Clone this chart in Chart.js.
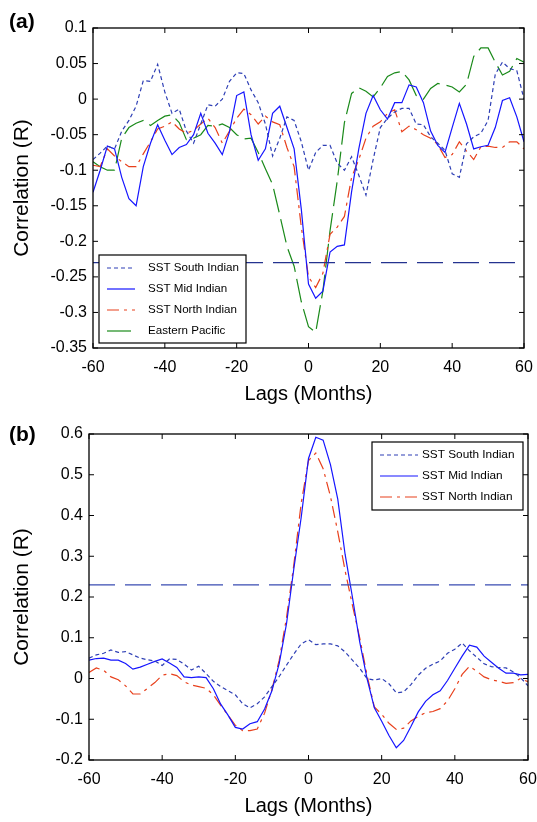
<!DOCTYPE html>
<html>
<head>
<meta charset="utf-8">
<script src="https://cdn.jsdelivr.net/npm/chart.js@4.4.1/dist/chart.umd.min.js"></script>
<style>
  body { margin: 0; background: #fff; width: 537px; height: 822px; position: relative; overflow: hidden; font-family: "Liberation Sans", Arial, sans-serif; }
  .panel { position: absolute; left: 0; width: 537px; }
  #wrapA { top: 0; height: 410px; }
  #wrapB { top: 410px; height: 412px; }
  .tag { position: absolute; font-weight: bold; font-size: 21px; color: #000; }
</style>
</head>
<body>
<div class="panel" id="wrapA"><canvas id="chartA" width="537" height="410"></canvas></div>
<div class="panel" id="wrapB"><canvas id="chartB" width="537" height="412"></canvas></div>
<div class="tag" style="left:9px; top:9px">(a)</div>
<div class="tag" style="left:9px; top:422px">(b)</div>
<script>
// lags in months, one value every 2 months
const lags = Array.from({length: 61}, (_, i) => -60 + 2 * i)
const xTicks = [-60, -40, -20, 0, 20, 40, 60]
const yTicksA = [-0.35, -0.3, -0.25, -0.2, -0.15, -0.1, -0.05, 0, 0.05, 0.1]
const yTicksB = [-0.2, -0.1, 0, 0.1, 0.2, 0.3, 0.4, 0.5, 0.6]
const threshLags = [-60, 60]
const threshA = [-0.23, -0.23]
const threshB = [0.23, 0.23]

// panel (a)
const southA = [-0.085, -0.076, -0.066, -0.07, -0.045, -0.03, -0.01, 0.026, 0.025, 0.049,
  0.01, -0.02, -0.014, -0.045, -0.062, -0.035, -0.008, -0.01, 0.0, 0.025,
  0.037, 0.036, 0.013, -0.005, -0.035, -0.08, -0.055, -0.025, -0.03, -0.06,
  -0.1, -0.075, -0.065, -0.065, -0.09, -0.1, -0.081, -0.107, -0.135, -0.085,
  -0.04, -0.027, -0.018, -0.013, -0.013, -0.035, -0.036, -0.053, -0.062, -0.072,
  -0.105, -0.11, -0.063, -0.053, -0.048, -0.03, 0.035, 0.052, 0.043, 0.04, 0.0]
const midA = [-0.131, -0.1, -0.066, -0.07, -0.11, -0.14, -0.15, -0.095, -0.062, -0.036,
  -0.058, -0.078, -0.068, -0.064, -0.05, -0.02, -0.048, -0.062, -0.078, -0.046,
  0.005, 0.01, -0.05, -0.086, -0.07, -0.02, -0.01, -0.04, -0.07, -0.155,
  -0.26, -0.28, -0.27, -0.215, -0.207, -0.205, -0.13, -0.07, -0.02, 0.005,
  -0.015, -0.028, -0.005, -0.005, 0.02, 0.017, -0.005, -0.045, -0.065, -0.075,
  -0.04, -0.006, -0.035, -0.07, -0.067, -0.065, -0.04, -0.002, 0.002, -0.025, -0.06]
const northA = [-0.093, -0.095, -0.07, -0.08, -0.088, -0.095, -0.095, -0.077, -0.06, -0.042,
  -0.038, -0.032, -0.042, -0.048, -0.044, -0.035, -0.027, -0.04, -0.062, -0.045,
  -0.027, -0.014, -0.022, -0.035, -0.024, -0.032, -0.036, -0.068, -0.095, -0.18,
  -0.25, -0.265, -0.245, -0.19, -0.18, -0.165, -0.11, -0.085, -0.055, -0.038,
  -0.032, -0.02, -0.015, -0.046, -0.038, -0.043, -0.05, -0.055, -0.064, -0.082,
  -0.078, -0.06, -0.073, -0.085, -0.067, -0.066, -0.068, -0.068, -0.06, -0.06, -0.07]
const eastA = [-0.088, -0.095, -0.1, -0.1, -0.055, -0.04, -0.034, -0.03, -0.037, -0.03,
  -0.024, -0.022, -0.033, -0.057, -0.055, -0.05, -0.037, -0.038, -0.035, -0.04,
  -0.05, -0.056, -0.055, -0.075, -0.098, -0.12, -0.163, -0.207, -0.235, -0.285,
  -0.32, -0.328, -0.27, -0.185, -0.115, -0.033, 0.008, 0.016, 0.011, 0.003,
  0.016, 0.032, 0.037, 0.039, 0.027, 0.005, 0.0, 0.015, 0.022, 0.02,
  0.017, 0.01, 0.021, 0.06, 0.072, 0.072, 0.052, 0.034, 0.039, 0.057, 0.052]

// panel (b)
const southB = [0.05, 0.058, 0.062, 0.07, 0.064, 0.066, 0.058, 0.05, 0.046, 0.043,
  0.032, 0.048, 0.047, 0.035, 0.021, 0.03, 0.012, -0.007, -0.02, -0.03,
  -0.04, -0.062, -0.072, -0.062, -0.045, -0.02, 0.005, 0.033, 0.06, 0.085,
  0.095, 0.083, 0.085, 0.085, 0.08, 0.065, 0.045, 0.025, 0.0, -0.004,
  0.0, -0.013, -0.035, -0.033, -0.015, 0.008, 0.025, 0.035, 0.043, 0.062,
  0.072, 0.087, 0.068, 0.052, 0.036, 0.029, 0.027, 0.026, 0.016, 0.002, -0.018]
const midB = [0.045, 0.049, 0.05, 0.045, 0.045, 0.037, 0.023, 0.028, 0.035, 0.042,
  0.048, 0.038, 0.027, 0.004, 0.002, 0.004, 0.002, -0.025, -0.063, -0.09,
  -0.12, -0.124, -0.111, -0.106, -0.075, -0.03, 0.037, 0.135, 0.27, 0.395,
  0.54, 0.592, 0.585, 0.525, 0.44, 0.305, 0.2, 0.09, 0.0, -0.072,
  -0.105, -0.14, -0.17, -0.152, -0.118, -0.082, -0.056, -0.04, -0.03, -0.005,
  0.025, 0.055, 0.082, 0.077, 0.055, 0.04, 0.025, 0.013, 0.013, 0.009, 0.01]
const northB = [0.015, 0.026, 0.02, 0.004, -0.003, -0.018, -0.038, -0.038, -0.024, -0.01,
  0.008, 0.012, 0.007, -0.008, -0.016, -0.02, -0.024, -0.04, -0.066, -0.09,
  -0.115, -0.128, -0.128, -0.124, -0.085, -0.027, 0.045, 0.15, 0.28, 0.43,
  0.535, 0.553, 0.515, 0.447, 0.36, 0.265, 0.18, 0.1, 0.008, -0.07,
  -0.088, -0.11, -0.125, -0.122, -0.104, -0.093, -0.084, -0.081, -0.074, -0.055,
  -0.025, 0.01, 0.03, 0.018, 0.004, -0.003, -0.007, -0.012, -0.01, 0.0, -0.008]

Chart.defaults.font.family = "'Liberation Sans', Arial, sans-serif"
Chart.defaults.color = '#000'

function pts(xs, ys) {
    return xs.map((x, i) => ({x: x, y: ys[i]}))
}

function series(label, values, color, dash) {
    return {
        label: label,
        data: pts(lags, values),
        borderColor: color,
        borderWidth: 1.2,
        borderDash: dash,
        pointRadius: 0,
        tension: 0,
        fill: false
    }
}

function threshold(values, color) {
    return {
        data: pts(threshLags, values),
        borderColor: color,
        borderWidth: 1.2,
        borderDash: [26, 10],
        pointRadius: 0
    }
}

// box round the axes, with small inward ticks on all four sides
const frame = {
    id: 'frame',
    afterDatasetsDraw(chart) {
        const {ctx, chartArea: a, scales} = chart
        const t = 5
        ctx.save()
        ctx.strokeStyle = '#000'
        ctx.lineWidth = 1.3
        ctx.strokeRect(a.left, a.top, a.right - a.left, a.bottom - a.top)
        ctx.lineWidth = 1
        ctx.beginPath()
        scales.x.ticks.forEach(tk => {
            const px = scales.x.getPixelForValue(tk.value)
            ctx.moveTo(px, a.bottom); ctx.lineTo(px, a.bottom - t)
            ctx.moveTo(px, a.top); ctx.lineTo(px, a.top + t)
        })
        scales.y.ticks.forEach(tk => {
            const py = scales.y.getPixelForValue(tk.value)
            ctx.moveTo(a.left, py); ctx.lineTo(a.left + t, py)
            ctx.moveTo(a.right, py); ctx.lineTo(a.right - t, py)
        })
        ctx.stroke()
        ctx.restore()
    }
}

// boxed legend drawn inside the axes
const boxLegend = {
    id: 'boxLegend',
    afterDraw(chart, args, opts) {
        const {ctx} = chart
        const items = chart.data.datasets.filter(d => d.label)
        ctx.save()
        ctx.fillStyle = '#fff'
        ctx.fillRect(opts.x, opts.y, opts.w, opts.h)
        ctx.strokeStyle = '#000'
        ctx.lineWidth = 1.2
        ctx.strokeRect(opts.x, opts.y, opts.w, opts.h)
        ctx.font = opts.size + "px 'Liberation Sans', Arial, sans-serif"
        ctx.textBaseline = 'middle'
        items.forEach((d, i) => {
            const y = opts.y + opts.first + i * opts.row
            ctx.strokeStyle = d.borderColor
            ctx.lineWidth = d.borderWidth
            ctx.setLineDash(d.borderDash || [])
            ctx.beginPath()
            ctx.moveTo(opts.x + opts.line0, y)
            ctx.lineTo(opts.x + opts.line1, y)
            ctx.stroke()
            ctx.setLineDash([])
            ctx.fillStyle = '#000'
            ctx.fillText(d.label, opts.x + opts.text, y)
        })
        ctx.restore()
    }
}

function makeChart(id, datasets, yMin, yMax, yTicks, yWidth, pad, legend) {
    return new Chart(document.getElementById(id), {
        type: 'line',
        data: {datasets: datasets},
        options: {
            responsive: false,
            animation: false,
            layout: {padding: pad},
            plugins: {
                legend: {display: false},
                tooltip: {enabled: false},
                boxLegend: legend
            },
            scales: {
                x: {
                    type: 'linear',
                    min: -60,
                    max: 60,
                    afterBuildTicks: s => { s.ticks = xTicks.map(v => ({value: v})) },
                    afterFit: s => { s.height = 62; s.paddingLeft = 0; s.paddingRight = 0 },
                    grid: {display: false, drawTicks: false},
                    border: {display: false},
                    ticks: {font: {size: 16}, padding: 10, maxRotation: 0},
                    title: {display: true, text: 'Lags (Months)', font: {size: 20}, padding: {bottom: 4}}
                },
                y: {
                    min: yMin,
                    max: yMax,
                    afterBuildTicks: s => { s.ticks = yTicks.map(v => ({value: v})) },
                    afterFit: s => { s.width = yWidth },
                    grid: {display: false, drawTicks: false},
                    border: {display: false},
                    ticks: {font: {size: 16}, padding: 6, callback: v => String(Number(v.toFixed(2)))},
                    title: {display: true, text: 'Correlation (R)', font: {size: 21}, padding: {top: 10}}
                }
            }
        },
        plugins: [frame, boxLegend]
    })
}

window.onload = function() {
    makeChart('chartA', [
        threshold(threshA, '#24338f'),
        series('SST South Indian', southA, '#2e3fb5', [4, 3]),
        series('SST Mid Indian', midA, '#1515ff', []),
        series('SST North Indian', northA, '#e8401c', [12, 5, 3, 5]),
        series('Eastern Pacific', eastA, '#1a8a1a', [24, 7])
    ], -0.35, 0.1, yTicksA, 93, {left: 0, right: 13, top: 28, bottom: 0},
       {x: 99, y: 255, w: 147, h: 88, first: 13, row: 21, line0: 8, line1: 36, text: 49, size: 11.6})

    makeChart('chartB', [
        threshold(threshB, '#3a4cb2'),
        series('SST South Indian', southB, '#2e3fb5', [4, 3]),
        series('SST Mid Indian', midB, '#1515ff', []),
        series('SST North Indian', northB, '#e8401c', [12, 5, 3, 5])
    ], -0.2, 0.6, yTicksB, 89, {left: 0, right: 9, top: 24, bottom: 0},
       {x: 372, y: 32, w: 151, h: 68, first: 13, row: 21, line0: 8, line1: 46, text: 50, size: 11.8})
}
</script>
</body>
</html>
